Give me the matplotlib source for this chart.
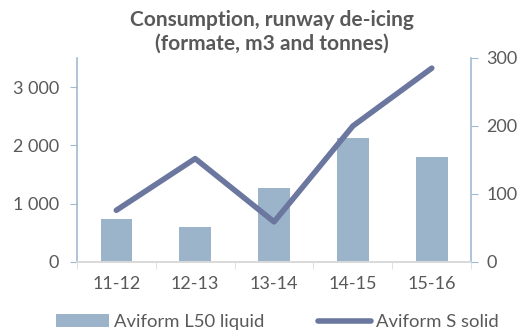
import numpy as np
import matplotlib.pyplot as plt
from matplotlib.ticker import FuncFormatter

seasons = ["11-12", "12-13", "13-14", "14-15", "15-16"]
liquid_m3 = [740, 600, 1265, 2120, 1795]
solid_tonnes = [76, 152, 59, 200, 285]

plt.rcParams['font.family'] = ['Lato', 'DejaVu Sans']

bar_col = '#9bb4ca'
line_col = '#6b779f'
axis_col = '#9fbad3'
text_col = '#595959'

fig = plt.figure(figsize=(5.23, 3.35), dpi=100)
ax = fig.add_axes([0.147, 0.218, 0.754, 0.609])
ax2 = ax.twinx()

x = np.arange(len(seasons))
ax.bar(x, liquid_m3, width=0.4, color=bar_col, label='Aviform L50 liquid')
ax2.plot(x, solid_tonnes, color=line_col, lw=4, solid_capstyle='round',
         label='Aviform S solid')

ax.set_xlim(-0.5, 4.5)
ax.set_ylim(0, 3500)
ax2.set_ylim(0, 300)
ax.set_yticks([0, 1000, 2000, 3000])
ax2.set_yticks([0, 100, 200, 300])
ax.yaxis.set_major_formatter(FuncFormatter(lambda v, p: f"{int(v):,}".replace(",", " ")))

ax.set_xticks(x)
ax.set_xticklabels(seasons)
ax.set_xticks(np.arange(-0.5, 5, 1), minor=True)
ax.tick_params(axis='x', which='major', length=0, pad=10, labelsize=13, colors=text_col)
ax.tick_params(axis='x', which='minor', length=5, color='#d9d9d9')

for a in (ax, ax2):
    a.spines['top'].set_visible(False)
    a.spines['left'].set_color(axis_col)
    a.spines['right'].set_color(axis_col)
    a.spines['bottom'].set_color('#d9d9d9')
    a.spines['left'].set_linewidth(1.2)
    a.spines['right'].set_linewidth(1.2)
    a.spines['bottom'].set_linewidth(1.2)
ax.spines['right'].set_visible(False)
ax2.spines['left'].set_visible(False)

ax.tick_params(axis='y', length=5, color=axis_col, labelsize=13, labelcolor=text_col, pad=8)
ax2.tick_params(axis='y', length=5, color=axis_col, labelsize=13, labelcolor=text_col, pad=6)

fig.suptitle("Consumption, runway de-icing\n(formate, m3 and tonnes)", x=0.52, y=0.97,
             fontsize=15, fontweight='bold', color=text_col, linespacing=1.2)

h1, l1 = ax.get_legend_handles_labels()
h2, l2 = ax2.get_legend_handles_labels()
fig.legend(h1 + h2, l1 + l2, loc='lower center', bbox_to_anchor=(0.53, -0.035), ncol=2,
           frameon=False, fontsize=13.3, labelcolor=text_col, columnspacing=2.9,
           handlelength=2.9, handletextpad=0.25)

fig.savefig("out.png", dpi=100)
